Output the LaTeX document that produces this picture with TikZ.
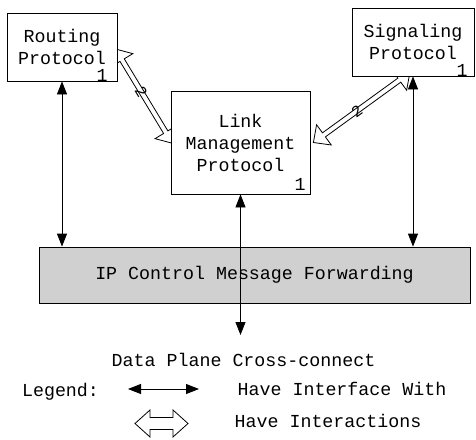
\documentclass[tikz,border=0pt]{standalone}
\usepackage{fontspec}
\setmonofont{Liberation Mono}
\usetikzlibrary{arrows.meta, positioning, calc, backgrounds}

\definecolor{fwdgray}{RGB}{208,208,208}

\tikzset{
  hollow/.style n args={3}{to path={
    let \p1=($(\tikztotarget)-(\tikztostart)$),
        \n1={atan2(\y1,\x1)}, \n2={veclen(\x1,\y1)} in
    [shift={(\tikztostart)}, rotate=\n1]
    (0pt,0pt) -- (#3,#2) -- (#3,#1) -- (\n2-#3,#1) -- (\n2-#3,#2) -- (\n2,0pt)
    -- (\n2-#3,-#2) -- (\n2-#3,-#1) -- (#3,-#1) -- (#3,-#2) -- cycle}}
}

\begin{document}
\begin{tikzpicture}[
  x=1pt, y=-1pt,
  font=\ttfamily\fontsize{18.3}{22}\selectfont,
  box/.style={draw, fill=white, line width=0.8pt, align=center, inner sep=0pt},
  tag/.style={anchor=base east, inner sep=0pt},
  link/.style={{Triangle[length=13pt, width=10pt]}-{Triangle[length=13pt, width=10pt]}, line width=0.8pt},
  inter/.style={draw, fill=white, line width=0.8pt},
  num/.style={sloped, inner sep=0pt, font=\ttfamily\fontsize{16}{16}\selectfont}
]
\useasboundingbox (0,0) rectangle (476,439);

% protocol boxes
\node[box, minimum width=110pt, minimum height=68pt,
  label={[tag, xshift=-9.5pt]south east:1}] (rp) at (62,47) {Routing\\Protocol};
\node[box, minimum width=122pt, minimum height=68pt,
  label={[tag, xshift=-6.5pt]south east:1}] (sp) at (413,42) {Signaling\\Protocol};
\node[box, minimum width=139pt, minimum height=103pt,
  label={[tag, xshift=-4.5pt, yshift=4pt]south east:1}] (lm) at (240.5,142.5)
  {Link\\Management\\Protocol};
\node[box, fill=fwdgray, minimum width=431pt, minimum height=56pt] (ip) at (254.5,275)
  {IP Control Message Forwarding};

% interactions, under the boxes
\coordinate (r1) at ($(rp.east)+(-2,2)$);
\coordinate (r2) at ($(lm.west)+(2,1)$);
\coordinate (s1) at ($(lm.east)+(3,0)$);
\coordinate (s2) at ($(sp.south)+(-3,-4)$);
\begin{scope}[on background layer]
\draw[inter, hollow={2.5pt}{12.5pt}{13pt}] (r1) to (r2);
\draw[inter, hollow={2.5pt}{12.5pt}{13pt}] (s1) to (s2);
\path (r1) -- node[num, pos=0.45] {2} (r2);
\path (s1) -- node[num, pos=0.45] {2} (s2);
\end{scope}

% interfaces
\draw[link] (rp.south) -- (rp.south |- ip.north);
\draw[link] (sp.south) -- (sp.south |- ip.north);
\coordinate (dpend) at (240.5,335);
\draw[link] (lm.south) -- (dpend);
\node[anchor=base, inner sep=0pt] (dp) at (243.5,366.7) {Data Plane Cross-connect};

% legend
\node[anchor=base, inner sep=0pt] (leg) at (60.5,396) {Legend:};
\coordinate (if1) at (128,389);
\coordinate (if2) at (199,389);
\draw[link] (if1) -- (if2);
\node[anchor=base, inner sep=0pt] (ifw) at (342,395.7) {Have Interface With};
\coordinate (ia1) at (135,423.5);
\coordinate (ia2) at (188,423.5);
\draw[inter, hollow={6pt}{13.5pt}{15pt}] (ia1) to (ia2);
\node[anchor=base, inner sep=0pt] (iaw) at (328,427.7) {Have Interactions};
\end{tikzpicture}
\end{document}
